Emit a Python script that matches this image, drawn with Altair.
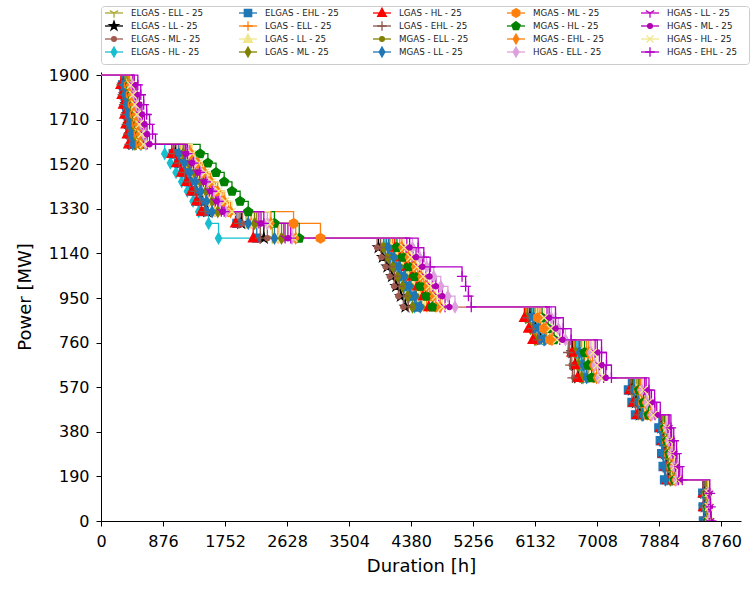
import altair as alt
import pandas as pd

SERIES = [
    "ELGAS - ELL - 25", "ELGAS - LL - 25", "ELGAS - ML - 25", "ELGAS - HL - 25",
    "ELGAS - EHL - 25", "LGAS - ELL - 25", "LGAS - LL - 25", "LGAS - ML - 25",
    "LGAS - HL - 25", "LGAS - EHL - 25", "MGAS - ELL - 25", "MGAS - LL - 25",
    "MGAS - ML - 25", "MGAS - HL - 25", "MGAS - EHL - 25", "HGAS - ELL - 25",
    "HGAS - LL - 25", "HGAS - ML - 25", "HGAS - HL - 25", "HGAS - EHL - 25",
]
COLORS = [
    "#a8a832", "#000000", "#a05a50", "#17becf", "#1f77b4", "#ff7f0e", "#f0e68c",
    "#808000", "#ff0000", "#8c564b", "#808000", "#1f77b4", "#ff7f0e", "#008000",
    "#ff7f0e", "#dda0dd", "#c000c0", "#b000b0", "#f0e68c", "#b400c8",
]

# power levels (MW) of the staircase, shared by every scenario
LEVELS = [1900,
          1858, 1816, 1774, 1732, 1690, 1648, 1605,
          1565, 1525, 1485, 1445, 1405, 1362, 1318,
          1268, 1205,
          1165, 1124, 1083, 1042, 1000, 958, 912,
          866, 820, 772,
          718, 664, 610,
          558, 505, 452,
          397, 342, 287, 232, 175,
          118, 60, 0]

# hours at which each scenario reaches each level (after the first, which is 0 h)
D_ELGAS_ELL = [330, 352, 376, 398, 421, 447, 470, 1090, 1170, 1245, 1325, 1400, 1480, 1560,
               2050, 2420, 4060, 4130, 4200, 4275, 4345, 4420, 4490, 6050, 6120, 6195,
               6680, 6720, 6760, 7510, 7565, 7625, 7920, 7945, 7975, 8000, 8030, 8530, 8535, 8540]
D_ELGAS_LL = [315, 334, 356, 377, 399, 420, 444, 1050, 1125, 1200, 1275, 1350, 1425, 1500,
              1980, 2300, 3920, 3980, 4045, 4110, 4170, 4235, 4300, 6060, 6135, 6210,
              6660, 6700, 6740, 7500, 7555, 7610, 7915, 7940, 7965, 7990, 8020, 8525, 8530, 8535]
D_ELGAS_ML = [300, 318, 339, 360, 378, 399, 420, 1060, 1135, 1210, 1285, 1360, 1435, 1510,
              2000, 2350, 3900, 3960, 4020, 4080, 4140, 4200, 4270, 6020, 6090, 6160,
              6620, 6650, 6685, 7490, 7545, 7600, 7910, 7935, 7960, 7985, 8010, 8520, 8525, 8530]
D_ELGAS_HL = [380, 410, 441, 470, 500, 532, 560, 900, 980, 1060, 1140, 1220, 1300, 1380,
              1520, 1660, 4010, 4080, 4150, 4220, 4290, 4360, 4430, 6100, 6175, 6250,
              6720, 6765, 6810, 7540, 7600, 7660, 7930, 7960, 7990, 8020, 8050, 8540, 8545, 8550]
D_ELGAS_EHL = [305, 324, 346, 366, 388, 410, 432, 1020, 1095, 1165, 1240, 1310, 1385, 1460,
               1920, 2200, 4030, 4100, 4170, 4245, 4315, 4390, 4460, 6080, 6155, 6230,
               6740, 6790, 6835, 7450, 7500, 7550, 7880, 7900, 7920, 7940, 7960, 8500, 8505, 8510]
D_LGAS_ELL = [350, 374, 398, 424, 447, 471, 497, 1130, 1210, 1290, 1370, 1450, 1530, 1610,
              2120, 2500, 4120, 4200, 4280, 4360, 4440, 4520, 4600, 6010, 6080, 6150,
              6690, 6735, 6780, 7550, 7610, 7670, 7940, 7970, 8000, 8030, 8060, 8545, 8550, 8555]
D_LGAS_LL = [355, 380, 404, 430, 455, 480, 505, 1140, 1220, 1300, 1380, 1460, 1540, 1620,
             2150, 2520, 4100, 4175, 4255, 4330, 4410, 4490, 4570, 6150, 6230, 6310,
             6800, 6850, 6900, 7560, 7620, 7685, 7945, 7975, 8005, 8035, 8065, 8550, 8555, 8560]
D_LGAS_ML = [340, 362, 386, 409, 433, 456, 480, 1160, 1240, 1320, 1405, 1485, 1570, 1650,
             2170, 2550, 3990, 4055, 4125, 4190, 4260, 4330, 4400, 6000, 6065, 6130,
             6700, 6745, 6790, 7520, 7580, 7640, 7925, 7955, 7985, 8010, 8040, 8535, 8540, 8545]
D_LGAS_HL = [280, 297, 316, 334, 352, 371, 390, 1000, 1070, 1140, 1210, 1280, 1350, 1420,
             1900, 2150, 4150, 4230, 4310, 4390, 4470, 4550, 4630, 5980, 6040, 6100,
             6650, 6690, 6730, 7470, 7520, 7575, 7900, 7925, 7950, 7975, 8000, 8505, 8510, 8515]
D_LGAS_EHL = [290, 308, 327, 345, 365, 384, 404, 1030, 1105, 1180, 1250, 1325, 1395, 1470,
              1950, 2250, 3950, 4015, 4080, 4145, 4210, 4275, 4340, 6030, 6100, 6170,
              6600, 6630, 6660, 7480, 7535, 7590, 7905, 7930, 7955, 7980, 8005, 8515, 8520, 8525]
D_MGAS_ELL = [365, 390, 414, 440, 466, 490, 516, 1170, 1250, 1335, 1420, 1500, 1585, 1670,
              2200, 2580, 4080, 4155, 4230, 4305, 4380, 4455, 4530, 6130, 6210, 6290,
              6780, 6830, 6880, 7570, 7635, 7700, 7950, 7980, 8010, 8040, 8075, 8555, 8560, 8565]
D_MGAS_LL = [320, 340, 362, 384, 405, 427, 450, 1100, 1180, 1255, 1335, 1410, 1490, 1570,
             2080, 2450, 4060, 4135, 4210, 4285, 4360, 4435, 4510, 6110, 6190, 6270,
             6760, 6810, 6860, 7530, 7590, 7650, 7890, 7910, 7930, 7950, 7975, 8510, 8515, 8520]
D_MGAS_ML = [390, 417, 445, 472, 500, 527, 555, 1250, 1340, 1430, 1525, 1615, 1710, 1800,
             2720, 3100, 4220, 4305, 4390, 4475, 4560, 4645, 4730, 6170, 6255, 6340,
             6860, 6910, 6960, 7590, 7655, 7720, 7960, 7990, 8020, 8055, 8090, 8560, 8565, 8570]
D_MGAS_HL = [410, 438, 468, 497, 526, 555, 584, 1400, 1510, 1625, 1740, 1850, 1965, 2080,
             2450, 2800, 4180, 4260, 4345, 4430, 4510, 4595, 4680, 6230, 6315, 6400,
             6830, 6880, 6930, 7600, 7665, 7735, 7965, 7995, 8030, 8065, 8100, 8565, 8570, 8575]
D_MGAS_EHL = [400, 428, 456, 484, 512, 540, 568, 1270, 1365, 1460, 1550, 1645, 1740, 1830,
              2400, 2750, 4250, 4340, 4430, 4520, 4605, 4695, 4790, 6200, 6285, 6370,
              6890, 6945, 7000, 7620, 7690, 7760, 7975, 8005, 8040, 8075, 8110, 8570, 8575, 8580]
D_HGAS_ELL = [440, 472, 505, 537, 569, 601, 634, 1230, 1320, 1410, 1495, 1585, 1675, 1760,
              2350, 2700, 4400, 4500, 4600, 4700, 4800, 4900, 5000, 6360, 6460, 6560,
              6920, 6975, 7030, 7640, 7710, 7780, 7985, 8020, 8055, 8090, 8125, 8575, 8580, 8585]
D_HGAS_LL = [450, 484, 518, 551, 585, 619, 652, 1190, 1275, 1360, 1445, 1530, 1615, 1700,
             2230, 2600, 4320, 4410, 4500, 4590, 4680, 4770, 4860, 6300, 6390, 6480,
             6980, 7040, 7100, 7680, 7750, 7825, 8010, 8045, 8080, 8115, 8155, 8585, 8590, 8600]
D_HGAS_ML = [470, 506, 542, 578, 614, 650, 686, 1200, 1285, 1370, 1460, 1545, 1635, 1720,
             2260, 2640, 4360, 4450, 4540, 4640, 4730, 4820, 4920, 6330, 6420, 6520,
             7010, 7070, 7130, 7700, 7775, 7850, 8025, 8060, 8095, 8135, 8175, 8590, 8600, 8610]
D_HGAS_HL = [420, 450, 480, 510, 540, 570, 600, 1290, 1380, 1475, 1570, 1660, 1755, 1850,
             2380, 2720, 4280, 4370, 4460, 4550, 4640, 4730, 4820, 6260, 6350, 6440,
             6950, 7005, 7060, 7660, 7730, 7800, 7995, 8030, 8065, 8100, 8140, 8580, 8585, 8590]
D_HGAS_EHL = [520, 562, 603, 645, 686, 728, 770, 1220, 1305, 1395, 1480, 1570, 1655, 1740,
              2300, 2680, 4480, 4560, 4650, 5100, 5150, 5190, 5230, 6420, 6530, 6640,
              7070, 7140, 7210, 7740, 7820, 7900, 8050, 8090, 8130, 8170, 8210, 8600, 8610, 8620]

DURATIONS = [D_ELGAS_ELL, D_ELGAS_LL, D_ELGAS_ML, D_ELGAS_HL, D_ELGAS_EHL,
             D_LGAS_ELL, D_LGAS_LL, D_LGAS_ML, D_LGAS_HL, D_LGAS_EHL,
             D_MGAS_ELL, D_MGAS_LL, D_MGAS_ML, D_MGAS_HL, D_MGAS_EHL,
             D_HGAS_ELL, D_HGAS_LL, D_HGAS_ML, D_HGAS_HL, D_HGAS_EHL]

X_TICKS = [0, 876, 1752, 2628, 3504, 4380, 5256, 6132, 7008, 7884, 8760]
Y_TICKS = [0, 190, 380, 570, 760, 950, 1140, 1330, 1520, 1710, 1900]

# marker glyphs (matplotlib-like)
TRI_DOWN = "M0,0L0,1.1M0,0L-0.95,-0.55M0,0L0.95,-0.55"
STAR = "M0,-1.1L0.247,-0.34L1.046,-0.34L0.4,0.13L0.647,0.89L0,0.42L-0.647,0.89L-0.4,0.13L-1.046,-0.34L-0.247,-0.34Z"
DOT = "M0.55,0A0.55,0.55,0,1,1,-0.55,0A0.55,0.55,0,1,1,0.55,0Z"
THIN_DIAMOND = "M0,-1.15L0.65,0L0,1.15L-0.65,0Z"
SQUARE = "M-0.85,-0.85H0.85V0.85H-0.85Z"
PLUS = "M-1.1,0H1.1M0,-1.1V1.1"
TRIANGLE = "M0,-1.1L1,0.75L-1,0.75Z"
HEXAGON = "M0,-1L0.866,-0.5L0.866,0.5L0,1L-0.866,0.5L-0.866,-0.5Z"
PENTAGON = "M0,-1L0.951,-0.309L0.588,0.809L-0.588,0.809L-0.951,-0.309Z"
XMARK = "M-0.8,-0.8L0.8,0.8M-0.8,0.8L0.8,-0.8"
SHAPES = [TRI_DOWN, STAR, DOT, THIN_DIAMOND, SQUARE, PLUS, TRIANGLE, THIN_DIAMOND,
          TRIANGLE, PLUS, DOT, THIN_DIAMOND, HEXAGON, PENTAGON, THIN_DIAMOND,
          THIN_DIAMOND, TRI_DOWN, DOT, XMARK, PLUS]

rows = []
for s, (name, durs) in enumerate(zip(SERIES, DURATIONS)):
    hours = [0] + durs
    for k, (h, p) in enumerate(zip(hours, LEVELS)):
        rows.append({"series": name, "s": s, "k": k, "hours": h, "power": p})
df = pd.DataFrame(rows)

FONT = "DejaVu Sans"
color_scale = alt.Scale(domain=SERIES, range=COLORS)
shape_scale = alt.Scale(domain=SERIES, range=SHAPES)
xs = alt.Scale(domain=[0, 9040], nice=False, zero=False)
ys = alt.Scale(domain=[0, 1913], nice=False, zero=False)

x_axis = alt.Axis(values=X_TICKS, title="Duration [h]", grid=False, domainColor="black",
                  tickColor="black", tickSize=5, labelFontSize=16, titleFontSize=18,
                  labelColor="black", titleColor="black", labelFont=FONT, titleFont=FONT,
                  titleFontWeight="normal", labelPadding=7, titlePadding=8,
                  labelFlush=False, labelOverlap=False, format="d")
y_axis = alt.Axis(values=Y_TICKS, title="Power [MW]", grid=False, domainColor="black",
                  tickColor="black", tickSize=5, labelFontSize=16, titleFontSize=18,
                  labelColor="black", titleColor="black", labelFont=FONT, titleFont=FONT,
                  titleFontWeight="normal", labelPadding=7, titlePadding=14,
                  labelFlush=False, labelOverlap=False, format="d")

base = alt.Chart(df)
lines = base.mark_line(interpolate="step-after", strokeWidth=1.3, clip=True).encode(
    x=alt.X("hours:Q", scale=xs, axis=x_axis),
    y=alt.Y("power:Q", scale=ys, axis=y_axis),
    color=alt.Color("series:N", scale=color_scale, legend=None),
    detail="series:N",
    order=alt.Order("k:Q"),
)
pts = base.transform_filter("datum.k > 0").mark_point(filled=True, size=90, strokeWidth=1.3,
                                                       opacity=1, clip=True).encode(
    x=alt.X("hours:Q", scale=xs),
    y=alt.Y("power:Q", scale=ys),
    fill=alt.Fill("series:N", scale=color_scale, legend=None),
    stroke=alt.Stroke("series:N", scale=color_scale, legend=None),
    shape=alt.Shape("series:N", scale=shape_scale, legend=None),
)
main = alt.layer(lines, pts).properties(width=640, height=449)

# legend panel (matplotlib-style, 5 columns filled column by column)
leg_df = pd.DataFrame({"series": SERIES, "i": list(range(len(SERIES)))})
leg = alt.Chart(leg_df).transform_calculate(
    col="floor(datum.i / 4)", row="datum.i % 4"
).transform_calculate(
    mx="13 + datum.col * 134", my="7 + datum.row * 13"
).transform_calculate(
    lx0="datum.mx - 9", lx1="datum.mx + 9", tx="datum.mx + 17"
)
leg_lines = leg.mark_rule(strokeWidth=1.3).encode(
    x=alt.X("lx0:Q", scale=None, axis=None), x2="lx1:Q",
    y=alt.Y("my:Q", scale=None, axis=None),
    color=alt.Color("series:N", scale=color_scale, legend=None),
)
leg_pts = leg.mark_point(filled=True, size=75, strokeWidth=1.3, opacity=1).encode(
    x=alt.X("mx:Q", scale=None, axis=None),
    y=alt.Y("my:Q", scale=None, axis=None),
    fill=alt.Fill("series:N", scale=color_scale, legend=None),
    stroke=alt.Stroke("series:N", scale=color_scale, legend=None),
    shape=alt.Shape("series:N", scale=shape_scale, legend=None),
)
leg_txt = leg.mark_text(align="left", baseline="middle", fontSize=8.7, font=FONT,
                        color="#222222").encode(
    x=alt.X("tx:Q", scale=None, axis=None),
    y=alt.Y("my:Q", scale=None, axis=None),
    text="series:N",
)
legend_panel = alt.layer(leg_lines, leg_pts, leg_txt).properties(
    width=648, height=58,
    view=alt.ViewBackground(stroke="#cccccc", strokeWidth=1, cornerRadius=3),
)

chart = alt.vconcat(legend_panel, main, spacing=8, bounds="flush").properties(
    padding={"left": 15, "top": 5, "right": 4, "bottom": 4},
).configure_view(stroke="transparent")

chart.save("out.html", embed_options={"renderer": "svg", "actions": False})
